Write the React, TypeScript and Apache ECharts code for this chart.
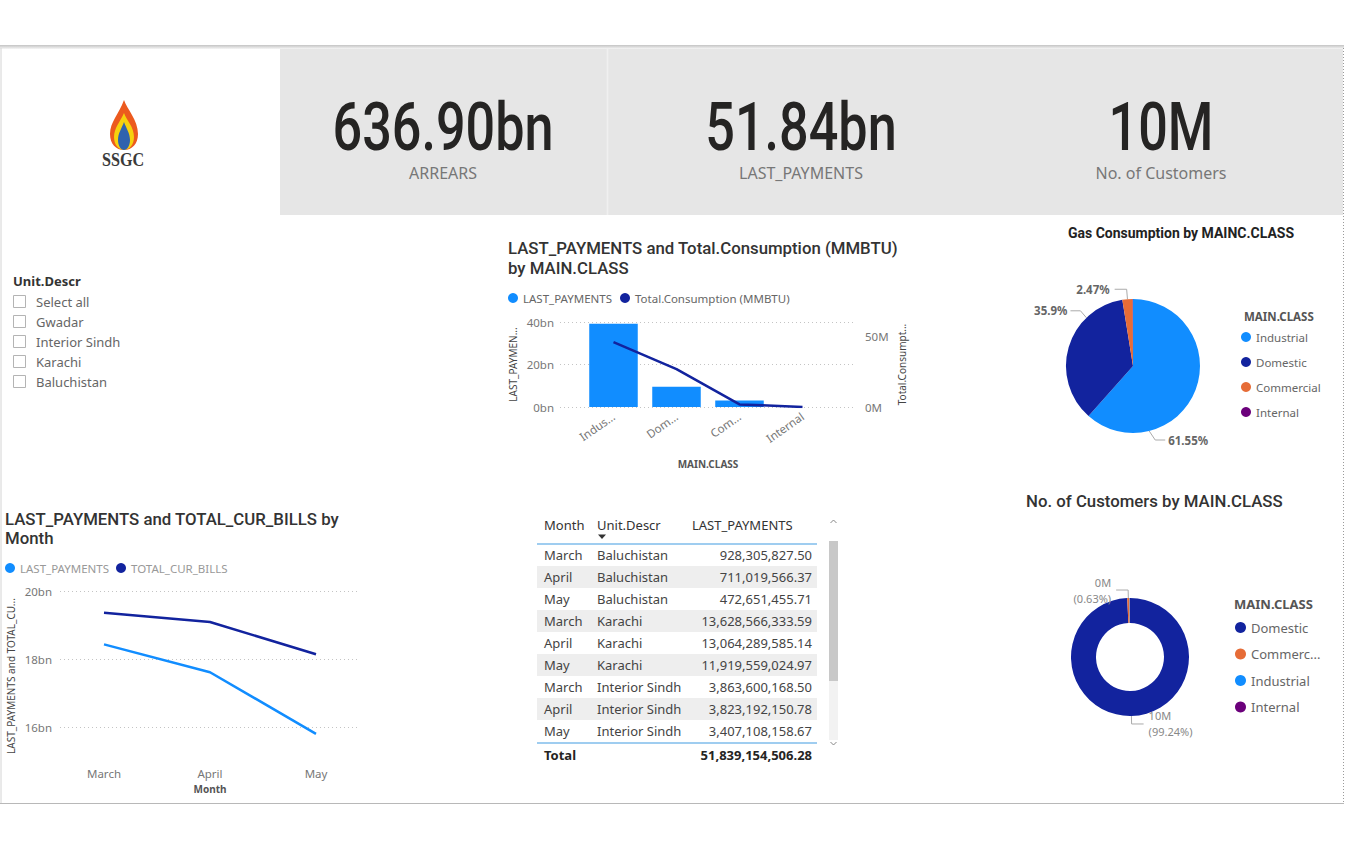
import React, { useEffect, useRef } from "react";
import * as echarts from "echarts";

// ---------- data ----------
const kpiValues = ["636.90bn", "51.84bn", "10M"];
const kpiLabels = ["ARREARS", "LAST_PAYMENTS", "No. of Customers"];

const slicerTitle = "Unit.Descr";
const slicerItems = ["Select all", "Gwadar", "Interior Sindh", "Karachi", "Baluchistan"];

const mainClasses = ["Industrial", "Domestic", "Commercial", "Internal"];
const mainClassTickLabels = ["Indus...", "Dom...", "Com...", "Internal"];
const classPayments = [39.2e9, 9.5e9, 3.1e9, 0.04e9];
const classConsumption = [46.4e6, 27.06e6, 1.862e6, 0.06e6];

const months = ["March", "April", "May"];
const monthPayments = [18.43e9, 17.61e9, 15.8e9];
const monthCurBills = [19.36e9, 19.09e9, 18.14e9];

const gasClasses = ["Industrial", "Domestic", "Commercial", "Internal"];

const customerClasses = ["Domestic", "Commercial", "Industrial", "Internal"];
const customerLegendLabels = ["Domestic", "Commerc...", "Industrial", "Internal"];
const customerCounts = [9930000, 63000, 12000, 1000];

const tableHeaders = ["Month", "Unit.Descr", "LAST_PAYMENTS"];
const tableMonths = ["March", "April", "May", "March", "April", "May", "March", "April", "May"];
const tableUnits = ["Baluchistan", "Baluchistan", "Baluchistan", "Karachi", "Karachi", "Karachi", "Interior Sindh", "Interior Sindh", "Interior Sindh"];
const tablePayments = [928305827.5, 711019566.37, 472651455.71, 13628566333.59, 13064289585.14, 11919559024.97, 3863600168.5, 3823192150.78, 3407108158.67];
const tableTotal = 51839154506.28;

const classColors: Record<string, string> = {
  Industrial: "#118DFF",
  Domestic: "#12239E",
  Commercial: "#E66C37",
  Internal: "#6B007B",
};

// ---------- layout constants ----------
const gasCenter = [1133, 366];
const gasRadius = 67;
// where Power BI starts each gas-pie leader line (degrees clockwise from 12 o'clock) and which side the label sits on
const gasLeaderAngle: (number | null)[] = [166, 316, null, null];
const gasLeaderSide = [1, -1, 0, 0];

// ---------- logo shapes ----------
const flameOuterD = "M14 0 C17 9 28 20 28 34 C28 44 22 50 14 50 C6 50 0 44 0 34 C0 22 9 14 14 0 Z";
const flameMidD = "M14 13 C17 21 24 27 24 37 C24 45 19 50 14 50 C9 50 4 45 4 37 C4 28 10 22 14 13 Z";
const flameInnerD = "M14 22 C16 28 20 33 20 40 C20 46 17 50 14 50 C11 50 8 46 8 40 C8 33 12 28 14 22 Z";
echarts.graphic.registerShape("flameOuter", echarts.graphic.extendPath(flameOuterD, {}));
echarts.graphic.registerShape("flameMid", echarts.graphic.extendPath(flameMidD, {}));
echarts.graphic.registerShape("flameInner", echarts.graphic.extendPath(flameInnerD, {}));

const DIN = "Roboto, 'DejaVu Sans', sans-serif";
const SEGOE = "'Noto Sans', 'Open Sans', sans-serif";

const fmt2 = (v: number) =>
  v.toLocaleString("en-US", { minimumFractionDigits: 2, maximumFractionDigits: 2 });

function txt(text: string, x: number, y: number, o: any = {}) {
  const { align = "left", size = 13, family = SEGOE, weight = "normal", color = "#333", scaleX = 1, rotation = 0, vAlign = "middle" } = o;
  return {
    type: "text",
    x,
    y,
    scaleX,
    rotation,
    silent: true,
    style: {
      text,
      x: 0,
      y: 0,
      fill: color,
      fontSize: size,
      fontFamily: family,
      fontWeight: weight,
      align,
      verticalAlign: vAlign,
    },
  };
}

function buildGraphics() {
  const g: any[] = [];
  // page frame
  g.push({ type: "rect", silent: true, shape: { x: 0, y: 45, width: 1344, height: 4 }, style: { fill: { type: "linear", x: 0, y: 0, x2: 0, y2: 1, colorStops: [{ offset: 0, color: "#c4c4c4" }, { offset: 1, color: "#f6f6f6" }] } } });
  g.push({ type: "line", silent: true, shape: { x1: 1, y1: 48, x2: 1, y2: 804 }, style: { stroke: "#d4d4d4", lineWidth: 1 } });
  g.push({ type: "line", silent: true, shape: { x1: 0, y1: 803.5, x2: 1344, y2: 803.5 }, style: { stroke: "#b8b8b8", lineWidth: 1 } });
  g.push({ type: "line", silent: true, shape: { x1: 1343.5, y1: 48, x2: 1343.5, y2: 804 }, style: { stroke: "#9a9a9a", lineWidth: 1, lineDash: [1, 2] } });

  // logo
  g.push({ type: "flameOuter", x: 110, y: 100, silent: true, style: { fill: "#EC5A1E" } });
  g.push({ type: "flameMid", x: 110, y: 100, silent: true, style: { fill: "#F6D10E" } });
  g.push({ type: "flameInner", x: 110, y: 100, silent: true, style: { fill: "#2F62AE" } });
  g.push(txt("SSGC", 123, 160, { align: "center", size: 19, family: "'Liberation Serif', 'DejaVu Serif', serif", weight: "bold", color: "#3a3a3a", scaleX: 0.85 }));

  // KPI cards
  g.push({ type: "rect", silent: true, shape: { x: 280, y: 49, width: 1063, height: 166 }, style: { fill: "#e6e6e6" } });
  g.push({ type: "line", silent: true, shape: { x1: 607.5, y1: 49, x2: 607.5, y2: 215 }, style: { stroke: "#f0f0f0", lineWidth: 1.5 } });
  const kpiCenters = [443, 801, 1161];
  kpiValues.forEach((v, i) => {
    g.push(txt(v, kpiCenters[i], 128, { align: "center", size: 66, family: DIN, weight: 500, color: "#252423", scaleX: 0.79 }));
    g.push(txt(kpiLabels[i], kpiCenters[i], 173, { align: "center", size: 16, family: SEGOE, color: "#777" }));
  });

  // slicer
  g.push(txt(slicerTitle, 13, 281, { size: 13, weight: "bold", color: "#333" }));
  slicerItems.forEach((s, i) => {
    const y = 302 + i * 20;
    g.push({ type: "rect", silent: true, shape: { x: 13.5, y: y - 6.5, width: 12, height: 12 }, style: { fill: "#fff", stroke: "#b4b4b4", lineWidth: 1 } });
    g.push(txt(s, 36, y, { size: 13, color: "#666" }));
  });

  // chart titles
  g.push(txt("LAST_PAYMENTS and Total.Consumption (MMBTU)", 508, 248, { size: 16.8, family: DIN, weight: 500, color: "#333" }));
  g.push(txt("by MAIN.CLASS", 508, 268, { size: 16.8, family: DIN, weight: 500, color: "#333" }));
  g.push(txt("LAST_PAYMENTS and TOTAL_CUR_BILLS by", 5, 519, { size: 16.8, family: DIN, weight: 500, color: "#333" }));
  g.push(txt("Month", 5, 538, { size: 16.8, family: DIN, weight: 500, color: "#333" }));
  g.push(txt("Gas Consumption by MAINC.CLASS", 1181, 233, { align: "center", size: 14, family: DIN, weight: "bold", color: "#222" }));
  g.push(txt("No. of Customers by MAIN.CLASS", 1026, 501, { size: 16.8, family: DIN, weight: 500, color: "#333" }));
  g.push(txt("MAIN.CLASS", 1244, 316, { size: 11.5, weight: "bold", color: "#555" }));
  g.push(txt("MAIN.CLASS", 1234, 604, { size: 13, weight: "bold", color: "#555" }));

  // table
  const tl = 537, tr = 817, rowY0 = 555, step = 22;
  const colX = [544, 597, 692];
  tableHeaders.forEach((h, i) => g.push(txt(h, colX[i], 525, { size: 13, color: "#333" })));
  g.push({ type: "polygon", silent: true, shape: { points: [[598, 534.5], [606, 534.5], [602, 539]] }, style: { fill: "#333" } });
  tableMonths.forEach((m, i) => {
    const y = rowY0 + i * step;
    if (i % 2 === 1) {
      g.push({ type: "rect", silent: true, z: -1, shape: { x: tl, y: y - step / 2, width: tr - tl, height: step }, style: { fill: "#eeeeee" } });
    }
    g.push(txt(m, 544, y, { size: 13, color: "#444" }));
    g.push(txt(tableUnits[i], 597, y, { size: 13, color: "#444" }));
    g.push(txt(fmt2(tablePayments[i]), 812, y, { align: "right", size: 13, color: "#444" }));
  });
  g.push({ type: "line", silent: true, shape: { x1: tl, y1: 544, x2: tr, y2: 544 }, style: { stroke: "#9fcdf0", lineWidth: 2 } });
  const bottomY = rowY0 + tableMonths.length * step - step / 2 + 1;
  g.push({ type: "line", silent: true, shape: { x1: tl, y1: bottomY, x2: tr, y2: bottomY }, style: { stroke: "#9fcdf0", lineWidth: 2 } });
  g.push(txt("Total", 544, 755, { size: 13, weight: "bold", color: "#252423" }));
  g.push(txt(fmt2(tableTotal), 812, 755, { align: "right", size: 13, weight: "bold", color: "#252423" }));
  // scrollbar
  g.push({ type: "rect", silent: true, shape: { x: 829, y: 541, width: 9, height: 199 }, style: { fill: "#f2f2f2" } });
  g.push({ type: "rect", silent: true, shape: { x: 829, y: 541, width: 9, height: 140 }, style: { fill: "#c8c8c8" } });
  g.push({ type: "polyline", silent: true, shape: { points: [[830.5, 523], [833.5, 520], [836.5, 523]] }, style: { stroke: "#888", lineWidth: 1, fill: null } });
  g.push({ type: "polyline", silent: true, shape: { points: [[830.5, 742], [833.5, 745], [836.5, 742]] }, style: { stroke: "#888", lineWidth: 1, fill: null } });
  return g;
}

const gridDots = { type: [1, 3], color: "#c4c4c4", width: 1 };
const axisLabelStyle = { color: "#777", fontSize: 11.5, fontFamily: SEGOE };
const axisNameStyle = { color: "#444", fontSize: 10, fontFamily: SEGOE };

function gasLabelLayout(p: any) {
  const deg = gasLeaderAngle[p.dataIndex];
  if (deg == null) return {};
  const a = (deg * Math.PI) / 180;
  const ex = gasCenter[0] + gasRadius * Math.sin(a);
  const ey = gasCenter[1] - gasRadius * Math.cos(a);
  const side = gasLeaderSide[p.dataIndex];
  const dy = side > 0 ? 9 : -7;
  const kx = ex + side * 6;
  const ky = ey + dy;
  const lx = kx + side * 10;
  return {
    x: lx + side * 3,
    y: ky,
    align: side > 0 ? "left" : "right",
    verticalAlign: "middle",
    labelLinePoints: [
      [ex, ey],
      [kx, ky],
      [lx, ky],
    ],
  };
}

function buildOption(): any {
  return {
    animation: false,
    backgroundColor: "#ffffff",
    textStyle: { fontFamily: SEGOE },
    graphic: { elements: buildGraphics() },
    grid: [
      { left: 582, top: 322, width: 252, height: 85 },
      { left: 560, top: 322, width: 295, height: 85 },
      { left: 51, top: 591, width: 318, height: 170 },
      { left: 60, top: 591, width: 300, height: 170 },
    ],
    xAxis: [
      {
        gridIndex: 0,
        type: "category",
        data: mainClasses,
        axisLine: { show: false },
        axisTick: { show: false },
        axisLabel: { ...axisLabelStyle, rotate: 35, interval: 0, margin: 8, formatter: (_v: string, i: number) => mainClassTickLabels[i] },
        name: "MAIN.CLASS",
        nameLocation: "middle",
        nameGap: 52,
        nameTextStyle: { ...axisNameStyle, fontWeight: "bold", color: "#555" },
      },
      { gridIndex: 1, type: "value", show: false, min: 0, max: 1 },
      {
        gridIndex: 2,
        type: "category",
        data: months,
        axisLine: { show: false },
        axisTick: { show: false },
        axisLabel: { ...axisLabelStyle, margin: 6 },
        name: "Month",
        nameLocation: "middle",
        nameGap: 23,
        nameTextStyle: { ...axisNameStyle, fontWeight: "bold", color: "#555" },
      },
      { gridIndex: 3, type: "value", show: false, min: 0, max: 1 },
    ],
    yAxis: [
      { gridIndex: 0, type: "value", min: 0, max: 40e9, show: false },
      { gridIndex: 0, type: "value", min: 0, max: 60.71e6, show: false, position: "right" },
      {
        gridIndex: 1,
        type: "value",
        min: 0,
        max: 40e9,
        interval: 20e9,
        axisLine: { show: false },
        axisTick: { show: false },
        axisLabel: { ...axisLabelStyle, margin: 6, formatter: (v: number) => `${v / 1e9}bn` },
        splitLine: { show: true, lineStyle: gridDots },
        name: "LAST_PAYMEN...",
        nameLocation: "middle",
        nameRotate: 90,
        nameGap: 42,
        nameTextStyle: axisNameStyle,
      },
      {
        gridIndex: 1,
        type: "value",
        position: "right",
        min: 0,
        max: 60.71e6,
        interval: 50e6,
        axisLine: { show: false },
        axisTick: { show: false },
        axisLabel: { ...axisLabelStyle, margin: 10, showMaxLabel: false, formatter: (v: number) => (v % 50e6 === 0 ? `${v / 1e6}M` : "") },
        splitLine: { show: false },
        name: "Total.Consumpt...",
        nameLocation: "middle",
        nameRotate: 90,
        nameGap: 42,
        nameTextStyle: axisNameStyle,
      },
      { gridIndex: 2, type: "value", min: 15e9, max: 20e9, show: false },
      {
        gridIndex: 3,
        type: "value",
        min: 15e9,
        max: 20e9,
        splitNumber: 3,
        axisLine: { show: false },
        axisTick: { show: false },
        axisLabel: { ...axisLabelStyle, margin: 8, showMinLabel: false, formatter: (v: number) => (v % 2e9 === 0 ? `${v / 1e9}bn` : "") },
        splitLine: { show: true, showMinLine: false, lineStyle: gridDots },
        name: "LAST_PAYMENTS and TOTAL_CU...",
        nameLocation: "middle",
        nameRotate: 90,
        nameGap: 44,
        nameTextStyle: axisNameStyle,
      },
    ],
    legend: [
      {
        data: ["LAST_PAYMENTS", "Total.Consumption (MMBTU)"],
        left: 508,
        top: 292,
        padding: 0,
        icon: "circle",
        itemWidth: 10,
        itemHeight: 10,
        itemGap: 8,
        selectedMode: false,
        textStyle: { fontSize: 11.5, color: "#666", fontFamily: SEGOE },
      },
      {
        data: ["LAST_PAYMENTS", "TOTAL_CUR_BILLS"],
        left: 5,
        top: 562,
        padding: 0,
        icon: "circle",
        itemWidth: 10,
        itemHeight: 10,
        itemGap: 7,
        selectedMode: false,
        textStyle: { fontSize: 11.5, color: "#999", fontFamily: SEGOE },
      },
      {
        data: gasClasses,
        orient: "vertical",
        left: 1241,
        top: 331,
        padding: 0,
        icon: "circle",
        itemWidth: 10,
        itemHeight: 10,
        itemGap: 13,
        selectedMode: false,
        textStyle: { fontSize: 11.5, color: "#666", fontFamily: SEGOE },
      },
      {
        data: customerClasses,
        orient: "vertical",
        left: 1235,
        top: 621,
        padding: 0,
        icon: "circle",
        itemWidth: 11,
        itemHeight: 11,
        itemGap: 13.5,
        selectedMode: false,
        formatter: (name: string) => customerLegendLabels[customerClasses.indexOf(name)],
        textStyle: { fontSize: 13, color: "#666", fontFamily: SEGOE },
      },
    ],
    series: [
      {
        type: "bar",
        name: "LAST_PAYMENTS",
        xAxisIndex: 0,
        yAxisIndex: 0,
        data: classPayments,
        barWidth: "77%",
        itemStyle: { color: classColors.Industrial },
        silent: true,
      },
      {
        type: "line",
        name: "Total.Consumption (MMBTU)",
        xAxisIndex: 0,
        yAxisIndex: 1,
        data: classConsumption,
        showSymbol: false,
        lineStyle: { color: classColors.Domestic, width: 2.5 },
        itemStyle: { color: classColors.Domestic },
        silent: true,
      },
      {
        type: "line",
        name: "LAST_PAYMENTS",
        xAxisIndex: 2,
        yAxisIndex: 4,
        data: monthPayments,
        showSymbol: false,
        lineStyle: { color: classColors.Industrial, width: 2.5 },
        itemStyle: { color: classColors.Industrial },
        silent: true,
      },
      {
        type: "line",
        name: "TOTAL_CUR_BILLS",
        xAxisIndex: 2,
        yAxisIndex: 4,
        data: monthCurBills,
        showSymbol: false,
        lineStyle: { color: classColors.Domestic, width: 2.5 },
        itemStyle: { color: classColors.Domestic },
        silent: true,
      },
      {
        type: "pie",
        name: "Gas Consumption",
        center: gasCenter,
        radius: gasRadius,
        startAngle: 90,
        clockwise: true,
        minShowLabelAngle: 1,
        silent: true,
        data: gasClasses.map((n) => ({
          name: n,
          value: classConsumption[mainClasses.indexOf(n)],
          itemStyle: { color: classColors[n] },
        })),
        label: {
          show: true,
          formatter: (p: any) => `${p.percent}%`,
          fontSize: 11.5,
          fontWeight: "bold",
          color: "#666",
          fontFamily: SEGOE,
        },
        labelLine: { show: true, length: 10, length2: 12, lineStyle: { color: "#aaa", width: 1 } },
        labelLayout: gasLabelLayout,
      },
      {
        type: "pie",
        name: "No. of Customers",
        center: [1130, 657],
        radius: [34, 59],
        startAngle: 90,
        clockwise: true,
        minShowLabelAngle: 1,
        silent: true,
        data: customerClasses.map((n, i) => ({
          name: n,
          value: customerCounts[i],
          itemStyle: { color: classColors[n] },
        })),
        label: {
          show: true,
          formatter: (p: any) => `${Math.round(p.value / 1e6)}M\n(${p.percent.toFixed(2)}%)`,
          fontSize: 11,
          lineHeight: 16,
          color: "#888",
          fontFamily: SEGOE,
        },
        labelLine: { show: true, length: 8, length2: 12, lineStyle: { color: "#aaa", width: 1 } },
      },
    ],
  };
}

export default function App() {
  const ref = useRef<HTMLDivElement>(null);
  useEffect(() => {
    if (!ref.current) return;
    const chart = echarts.init(ref.current, null, { renderer: "svg" });
    chart.setOption(buildOption());
    return () => chart.dispose();
  }, []);
  return (
    <div
      ref={ref}
      style={{ position: "absolute", left: 0, top: 0, width: 1350, height: 850, background: "#ffffff" }}
    />
  );
}
